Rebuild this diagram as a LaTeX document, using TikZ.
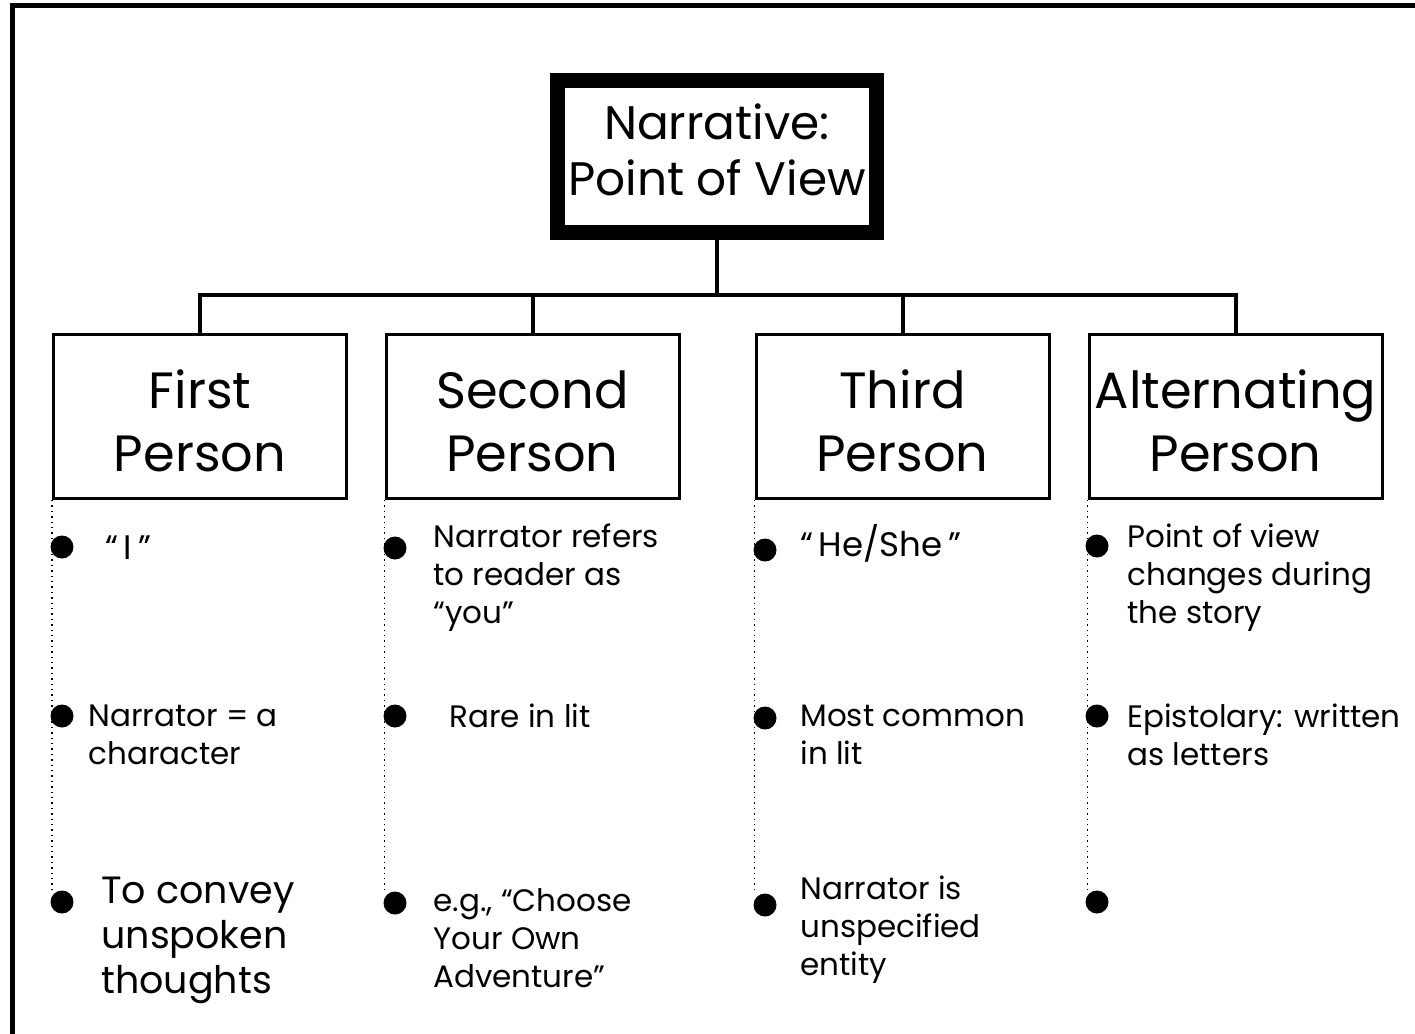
\documentclass[tikz,border=0pt]{standalone}
\usepackage{fontspec}
\setmainfont{Poppins}
\tikzset{
    headbox/.style={draw, line width=7.5pt, minimum width=159.5pt, minimum height=76pt,
        inner sep=0pt, align=center, text depth=7pt, font=\fontsize{23.5}{28}\selectfont},
    personbox/.style={draw, line width=1.5pt, minimum width=146.5pt, minimum height=82pt,
        inner sep=0pt, align=center, text height=55.5pt,
        font=\fontsize{25.5}{31.5}\selectfont},
    link/.style={line width=2pt},
    guide/.style={dotted, line width=0.7pt},
    bullet/.style={circle, fill, inner sep=0pt, minimum size=11.5pt},
    point/.style={anchor=west, inner sep=0pt, align=left, font=\fontsize{15.5}{19}\selectfont},
    bigpoint/.style={point, font=\fontsize{17}{21}\selectfont},
}

\begin{document}
\begin{tikzpicture}[x=0.5pt, y=-0.5pt]

    \useasboundingbox (0,0) rectangle (1415,1034);
    \draw[line width=2.5pt] (12.5,5.5) rectangle (1440,1060);

    % Cabecera

    \node[headbox] (head) at (717,156.5) {Narrative:\\Point of View};

    \node[personbox] (first)  at (200,416.5)  {First\\Person};
    \node[personbox] (second) at (532.5,416.5) {Second\\Person};
    \node[personbox] (third)  at (902.5,416.5) {Third\\Person};
    \node[personbox] (alter)  at (1235.5,416.5) {Alternating\\Person};

    \coordinate (bus) at (717,295);
    \draw[link] (head.south) -- (bus);
    \draw[link] (first.north) |- (bus);
    \draw[link] (second.north) |- (bus);
    \draw[link] (third.north) |- (bus);
    \draw[link] (alter.north) |- (bus);

    % Primera persona

    \node[bullet] (fOne)   at (62,547) {};
    \node[bullet] (fTwo)   at (62,716) {};
    \node[bullet] (fThree) at (62,902) {};
    \draw[guide] (first.south west) -- (first.south west |- fThree.north);

    \node[bigpoint] (fOneText) at (105,548) {“\,I\,”};
    \node[point] (fTwoText) at (88,735) {Narrator = a\\character};
    \node[point, font=\fontsize{19}{22.5}\selectfont] (fThreeText) at (101,940)
        {To convey\\unspoken\\thoughts};

    % Segunda persona

    \node[bullet] (sOne)   at (395,548) {};
    \node[bullet] (sTwo)   at (395,716) {};
    \node[bullet] (sThree) at (395,903) {};
    \draw[guide] (second.south west) -- (second.south west |- sThree.north);

    \node[point] (sOneText) at (433,578) {Narrator refers\\to reader as\\“you”};
    \node[point] (sTwoText) at (449,716) {Rare in lit};
    \node[point] (sThreeText) at (433,938) {e.g., “Choose\\Your Own\\Adventure”};

    % Tercera persona

    \node[bullet] (tOne)   at (765,550) {};
    \node[bullet] (tTwo)   at (765,718) {};
    \node[bullet] (tThree) at (765,905) {};
    \draw[guide] (third.south west) -- (third.south west |- tThree.north);

    \node[bigpoint] (tOneText) at (800,543) {“\,He/She\,”};
    \node[point] (tTwoText) at (800,735) {Most common\\in lit};
    \node[point] (tThreeText) at (800,930) {Narrator is\\unspecified\\entity};

    % Persona alternante

    \node[bullet] (aOne)   at (1097,546) {};
    \node[bullet] (aTwo)   at (1097,716) {};
    \node[bullet] (aThree) at (1097,902) {};
    \draw[guide] (alter.south west) -- (alter.south west |- aThree.north);

    \node[point] (aOneText) at (1127,578) {Point of view\\changes during\\the story};
    \node[point] (aTwoText) at (1127,735) {Epistolary: written\\as letters};

\end{tikzpicture}
\end{document}
